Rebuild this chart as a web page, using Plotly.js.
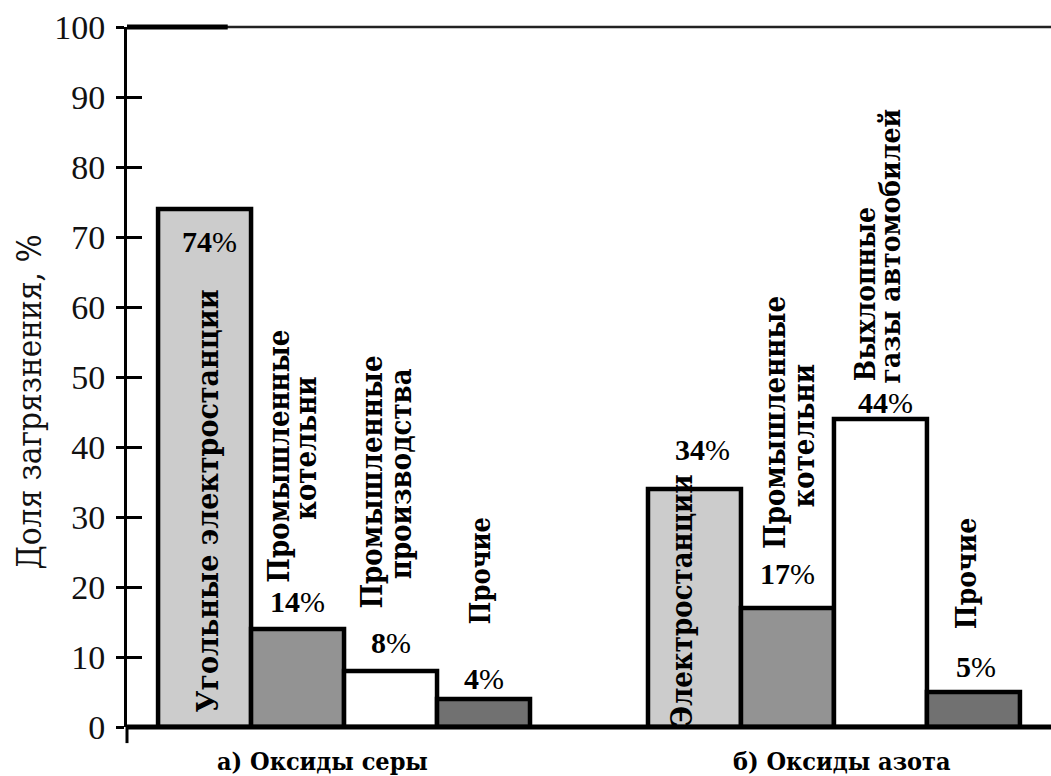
<!DOCTYPE html>
<html>
<head>
<meta charset="utf-8">
<script src="https://cdn.plot.ly/plotly-3.0.1.min.js"></script>
<style>
  html, body { margin: 0; padding: 0; background: #fff; }
  #chart { width: 1051px; height: 776px; }
</style>
</head>
<body>
<div id="chart"></div>
<script>
// Pollutant groups and their sources
const groups = ['а) Оксиды серы', 'б) Оксиды азота'];
const sourceNames = [
  [['Угольные электростанции'], ['Промышленные', 'котельни'], ['Промышленные', 'производства'], ['Прочие']],
  [['Электростанции'], ['Промышленные', 'котельни'], ['Выхлопные', 'газы автомобилей'], ['Прочие']]
];

// Share of pollution, %, one array per bar position inside a group
const share1 = [74, 34];
const share2 = [14, 17];
const share3 = [8, 44];
const share4 = [4, 5];
const shares = [share1, share2, share3, share4];

const yTicks = [0, 10, 20, 30, 40, 50, 60, 70, 80, 90, 100];
const yTitle = 'Доля загрязнения, %';

// Styling
const fills = ['#cccccc', '#939393', '#ffffff', '#717171'];
const digitsFont = 'Liberation Serif, Times New Roman, serif';
const cyrFont = 'DejaVu Serif Condensed, DejaVu Serif, serif';
const bargap = 0.2408;
const xRange = [-0.443, 1.443];
const nBars = shares.length;
const barW = (1 - bargap) / nBars;

// Label placement: percent labels (offset in % units from bar top, x shift px)
const pctLift = [[-4.6, 3.9, 4.1, 3.0], [5.7, 4.9, 2.3, 3.6]];
const pctShift = [[5, 0, 0, 0], [8, 0, 5, 3]];
// Vertical source labels: per line, x shift px from bar centre and centre height in % units
const namePlace = [
  [[[3, 32.3]], [[-18, 38.7], [9, 39.8]], [[-19, 35.0], [10, 36.2]], [[-3, 22.3]]],
  [[[-12, 18.1]], [[-13, 43.5], [17, 41.7]], [[-15, 61.9], [10, 68.7]], [[-7, 21.9]]]
];
const nameSize = [[30, 29, 29, 27], [29, 29, 28, 28]];

const traces = shares.map((vals, k) => ({
  type: 'bar',
  x: groups,
  y: vals,
  marker: { color: fills[k], line: { color: '#000', width: 4.5 } },
  hoverinfo: 'skip',
  showlegend: false
}));

// helper trace so the inner half of the cross ticks gets drawn
traces.push({ type: 'scatter', x: [groups[0]], y: [0], yaxis: 'y2', mode: 'markers',
  marker: { opacity: 0 }, hoverinfo: 'skip', showlegend: false });

const annotations = [];
groups.forEach((g, gi) => {
  shares.forEach((vals, k) => {
    const xc = gi + (k - (nBars - 1) / 2) * barW;
    // value label
    annotations.push({
      x: xc, y: vals[gi] + pctLift[gi][k], xref: 'x', yref: 'y',
      xshift: pctShift[gi][k],
      text: '<b>' + vals[gi] + '</b>%',
      showarrow: false, xanchor: 'center', yanchor: 'middle',
      font: { family: digitsFont, size: 30, color: '#000' }
    });
    // source name, one annotation per line
    sourceNames[gi][k].forEach((line, li) => {
      const p = namePlace[gi][k][li];
      annotations.push({
        x: xc, y: p[1], xref: 'x', yref: 'y', xshift: p[0],
        text: '<b>' + line + '</b>', textangle: -90,
        showarrow: false, xanchor: 'center', yanchor: 'middle',
        font: { family: cyrFont, size: nameSize[gi][k], color: '#000' }
      });
    });
  });
});

// group captions under the axis
const captionX = [0.2121, 0.7733];
groups.forEach((g, gi) => {
  annotations.push({
    x: captionX[gi], y: -0.049, xref: 'paper', yref: 'paper',
    text: '<b>' + g + '</b>', showarrow: false, xanchor: 'center', yanchor: 'middle',
    font: { family: cyrFont, size: 25, color: '#000' }
  });
});

// vertical axis caption
annotations.push({
  x: -0.105, y: 0.465, xref: 'paper', yref: 'paper',
  text: yTitle, textangle: -90, showarrow: false, xanchor: 'center', yanchor: 'middle',
  font: { family: cyrFont, size: 33, color: '#111' }
});

const layout = {
  width: 1051, height: 776,
  margin: { l: 127, r: 0, t: 27, b: 49 },
  paper_bgcolor: '#fff', plot_bgcolor: '#fff',
  barmode: 'group', bargap: bargap, bargroupgap: 0,
  font: { family: digitsFont, color: '#000' },
  xaxis: {
    type: 'category', range: xRange, showticklabels: false, ticks: '',
    showline: false, showgrid: false, zeroline: false, fixedrange: true
  },
  yaxis: {
    range: [0, 100], tickvals: yTicks, ticktext: yTicks.map(String),
    ticks: 'outside', ticklen: 8, tickwidth: 3, tickcolor: '#000',
    ticklabelstandoff: 4,
    showline: true, linewidth: 3, linecolor: '#000',
    showgrid: false, zeroline: false,
    tickfont: { family: digitsFont, size: 34, color: '#111' }
  },
  yaxis2: {
    overlaying: 'y', side: 'left', range: [0, 100], tickvals: yTicks,
    ticks: 'inside', ticklen: 15, tickwidth: 3, tickcolor: '#000',
    showticklabels: false, showline: false, showgrid: false, zeroline: false
  },
  shapes: [
    // baseline
    { type: 'line', xref: 'paper', yref: 'paper', x0: 0, x1: 1, y0: 0, y1: 0, line: { color: '#000', width: 5 } },
    // axis stub under the baseline
    { type: 'line', xref: 'paper', yref: 'paper', x0: 0, x1: 0, y0: 0, y1: -0.023, line: { color: '#000', width: 3 } },
    // frame line at 100 %
    { type: 'line', xref: 'paper', yref: 'paper', x0: 0, x1: 1, y0: 1, y1: 1, line: { color: '#222', width: 2.5 } },
    { type: 'line', xref: 'paper', yref: 'paper', x0: 0, x1: 0.109, y0: 1, y1: 1, line: { color: '#000', width: 5 } }
  ],
  annotations: annotations
};

Plotly.newPlot('chart', traces, layout, { staticPlot: true, displayModeBar: false });
</script>
</body>
</html>
